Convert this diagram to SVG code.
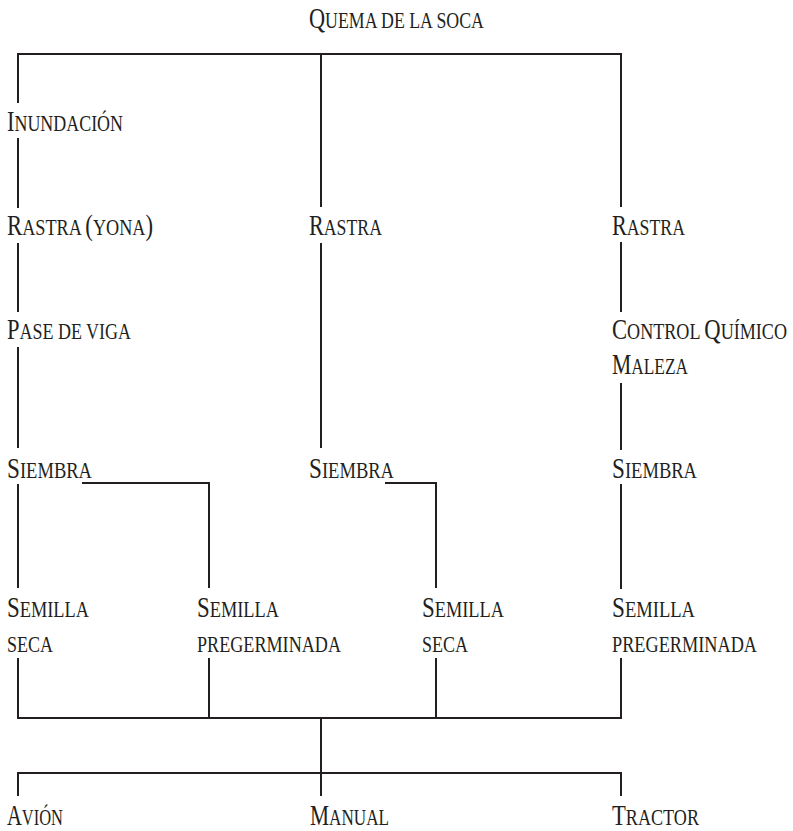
<svg xmlns="http://www.w3.org/2000/svg" width="793" height="831" viewBox="0 0 793 831">
  <style>
    text { font-family: "Liberation Serif", "Times New Roman", serif; font-size: 24px; fill: #231f20; }
    .cap { font-size: 30px; }
    .wire { fill: none; stroke: #231f20; stroke-width: 2; stroke-linejoin: miter; stroke-linecap: butt; }
  </style>
  <rect width="793" height="831" fill="#ffffff"/>

  <!-- connectors -->
  <g id="connectors" class="wire">
    <!-- top split -->
    <path d="M18 103 V54 H621 V207"/>
    <path d="M321 54 V207"/>
    <!-- left branch -->
    <path d="M18 138 V208"/>
    <path d="M18 243 V312"/>
    <path d="M18 347 V448"/>
    <path d="M18 484 V588"/>
    <path d="M82 483 H209 V588"/>
    <!-- middle branch -->
    <path d="M321 243 V448"/>
    <path d="M385 483 H436 V588"/>
    <!-- right branch -->
    <path d="M621 242 V312"/>
    <path d="M621 383 V450"/>
    <path d="M621 484 V589"/>
    <!-- merge of seed types -->
    <path d="M18 658 V718 H621 V658"/>
    <path d="M209 658 V718"/>
    <path d="M436 658 V718"/>
    <!-- sowing method split -->
    <path d="M321 718 V796"/>
    <path d="M18 796 V773 H621 V796"/>
  </g>

  <g id="quema">
    <text x="309" y="28" textLength="175" lengthAdjust="spacingAndGlyphs"><tspan class="cap">Q</tspan>UEMA DE LA SOCA</text>
  </g>

  <g id="inundacion">
    <text x="7" y="131" textLength="116" lengthAdjust="spacingAndGlyphs"><tspan class="cap">I</tspan>NUNDACIÓN</text>
  </g>
  <g id="rastra-yona">
    <text x="7" y="235" textLength="146" lengthAdjust="spacingAndGlyphs"><tspan class="cap">R</tspan>ASTRA <tspan class="cap">(</tspan>YONA<tspan class="cap">)</tspan></text>
  </g>
  <g id="pase-viga">
    <text x="7" y="339" textLength="124" lengthAdjust="spacingAndGlyphs"><tspan class="cap">P</tspan>ASE DE VIGA</text>
  </g>
  <g id="siembra-1">
    <text x="7" y="478" textLength="85" lengthAdjust="spacingAndGlyphs"><tspan class="cap">S</tspan>IEMBRA</text>
  </g>
  <g id="semilla-seca-1">
    <text x="7" y="617" textLength="82" lengthAdjust="spacingAndGlyphs"><tspan class="cap">S</tspan>EMILLA</text>
    <text x="7" y="652" textLength="46" lengthAdjust="spacingAndGlyphs">SECA</text>
  </g>
  <g id="semilla-pregerminada-1">
    <text x="197" y="617" textLength="82" lengthAdjust="spacingAndGlyphs"><tspan class="cap">S</tspan>EMILLA</text>
    <text x="197" y="652" textLength="144" lengthAdjust="spacingAndGlyphs">PREGERMINADA</text>
  </g>

  <g id="rastra-2">
    <text x="309" y="235" textLength="73" lengthAdjust="spacingAndGlyphs"><tspan class="cap">R</tspan>ASTRA</text>
  </g>
  <g id="siembra-2">
    <text x="309" y="478" textLength="85" lengthAdjust="spacingAndGlyphs"><tspan class="cap">S</tspan>IEMBRA</text>
  </g>
  <g id="semilla-seca-2">
    <text x="422" y="617" textLength="82" lengthAdjust="spacingAndGlyphs"><tspan class="cap">S</tspan>EMILLA</text>
    <text x="422" y="652" textLength="46" lengthAdjust="spacingAndGlyphs">SECA</text>
  </g>

  <g id="rastra-3">
    <text x="612" y="235" textLength="73" lengthAdjust="spacingAndGlyphs"><tspan class="cap">R</tspan>ASTRA</text>
  </g>
  <g id="control-quimico">
    <text x="612" y="339" textLength="175" lengthAdjust="spacingAndGlyphs"><tspan class="cap">C</tspan>ONTROL <tspan class="cap">Q</tspan>UÍMICO</text>
    <text x="612" y="374" textLength="76" lengthAdjust="spacingAndGlyphs"><tspan class="cap">M</tspan>ALEZA</text>
  </g>
  <g id="siembra-3">
    <text x="612" y="478" textLength="85" lengthAdjust="spacingAndGlyphs"><tspan class="cap">S</tspan>IEMBRA</text>
  </g>
  <g id="semilla-pregerminada-2">
    <text x="612" y="617" textLength="83" lengthAdjust="spacingAndGlyphs"><tspan class="cap">S</tspan>EMILLA</text>
    <text x="612" y="652" textLength="145" lengthAdjust="spacingAndGlyphs">PREGERMINADA</text>
  </g>

  <g id="avion">
    <text x="7" y="825" textLength="56" lengthAdjust="spacingAndGlyphs"><tspan class="cap">A</tspan>VIÓN</text>
  </g>
  <g id="manual">
    <text x="310" y="825" textLength="79" lengthAdjust="spacingAndGlyphs"><tspan class="cap">M</tspan>ANUAL</text>
  </g>
  <g id="tractor">
    <text x="612" y="825" textLength="87" lengthAdjust="spacingAndGlyphs"><tspan class="cap">T</tspan>RACTOR</text>
  </g>
</svg>
